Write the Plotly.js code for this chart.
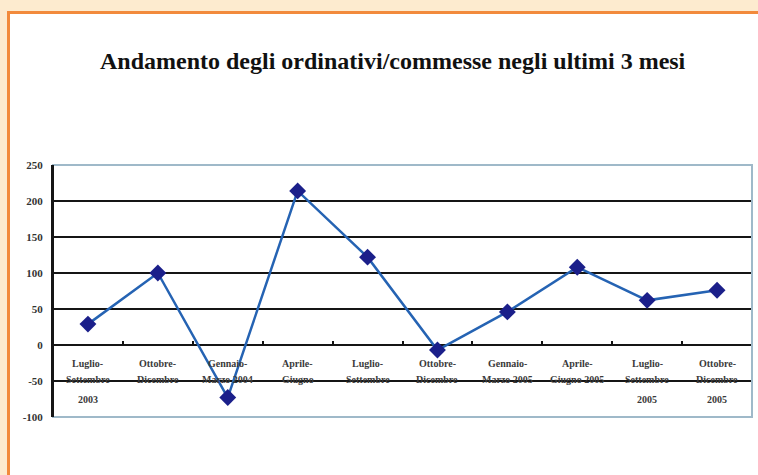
<!DOCTYPE html>
<html>
<head>
<meta charset="utf-8">
<script src="https://cdn.plot.ly/plotly-3.0.1.min.js"></script>
<style>
html,body{margin:0;padding:0;background:#FDEBCF;width:758px;height:475px;overflow:hidden;}
#frame{position:absolute;left:7px;top:11px;right:0;bottom:0;background:#ffffff;border-left:3px solid #F28A3C;border-top:3px solid #F28A3C;}
#chart{position:absolute;left:0;top:0;width:758px;height:475px;}
</style>
</head>
<body>
<div id="frame"></div>
<div id="chart"></div>
<script>
const categories = ["Luglio-Settembre 2003","Ottobre-Dicembre","Gennaio-Marzo 2004","Aprile-Giugno","Luglio-Settembre","Ottobre-Dicembre","Gennaio-Marzo 2005","Aprile-Giugno 2005","Luglio-Settembre 2005","Ottobre-Dicembre 2005"];
const values = [29, 100, -73, 214, 122, -7, 46, 108, 62, 76];
const labelLine1 = ["Luglio-","Ottobre-","Gennaio-","Aprile-","Luglio-","Ottobre-","Gennaio-","Aprile-","Luglio-","Ottobre-"];
const labelLine2 = ["Settembre","Dicembre","Marzo 2004","Giugno","Settembre","Dicembre","Marzo 2005","Giugno 2005","Settembre","Dicembre"];
const labelLine3 = ["2003","","","","","","","","2005","2005"];
const yTicks = [-100, -50, 0, 50, 100, 150, 200, 250];
const yRange = [-100, 250];
const titleText = "Andamento degli ordinativi/commesse negli ultimi 3 mesi";

const xPos = categories.map((c, i) => i);
const labelFont = {family: "Liberation Serif, serif", size: 10, color: "#3a3a3a"};
const annotations = [];
const lines = [labelLine1, labelLine2, labelLine3];
const shifts = [-18, -34, -54];
lines.forEach((arr, li) => {
  arr.forEach((t, i) => {
    if (!t) return;
    annotations.push({
      x: xPos[i], y: 0, xref: "x", yref: "y",
      text: "<b>" + t + "</b>", showarrow: false,
      yanchor: "middle", xanchor: "center", yshift: shifts[li],
      font: labelFont
    });
  });
});

const trace = {
  x: xPos, y: values, type: "scatter", mode: "lines+markers",
  text: categories,
  line: {color: "#2563B3", width: 2.5},
  marker: {symbol: "diamond", size: 13, color: "#1B1F8A", line: {width: 0}},
  hoverinfo: "skip"
};

const zeroFrac = (0 - yRange[0]) / (yRange[1] - yRange[0]);
const bounds = [];
for (let i = 0; i < categories.length - 1; i++) bounds.push(i + 0.5);

const layout = {
  width: 758, height: 475,
  paper_bgcolor: "rgba(0,0,0,0)", plot_bgcolor: "#ffffff",
  margin: {l: 53, r: 6, t: 165, b: 58},
  showlegend: false,
  title: {
    text: "<b>" + titleText + "</b>",
    font: {family: "Liberation Serif, serif", size: 24, color: "#111111"},
    x: 0.518, xref: "container", xanchor: "center",
    y: 0.872, yref: "container", yanchor: "middle"
  },
  xaxis: {
    range: [-0.5, categories.length - 0.5],
    tickvals: bounds, ticks: "inside", ticklen: 4, tickwidth: 2, tickcolor: "#111",
    anchor: "free", position: zeroFrac,
    showticklabels: false, showgrid: false, zeroline: false, showline: false
  },
  yaxis: {
    range: yRange, tickvals: yTicks, ticktext: yTicks.map(v => "<b>" + v + "</b>"),
    showgrid: true, gridcolor: "#151515", gridwidth: 2,
    zeroline: true, zerolinecolor: "#151515", zerolinewidth: 2,
    showline: true, linecolor: "#151515", linewidth: 2,
    ticks: "", tickfont: {family: "Liberation Serif, serif", size: 11, color: "#333333"},
    ticklabelstandoff: 6
  },
  shapes: [
    {type: "rect", xref: "paper", yref: "paper", x0: 0, x1: 1, y0: 0, y1: 1,
     line: {color: "#9FB9C9", width: 2}, layer: "above"},
    {type: "line", xref: "paper", yref: "paper", x0: 0, x1: 0, y0: 0, y1: 1,
     line: {color: "#151515", width: 2}, layer: "above"}
  ],
  annotations: annotations
};

Plotly.newPlot("chart", [trace], layout, {displayModeBar: false, staticPlot: true});
</script>
</body>
</html>
